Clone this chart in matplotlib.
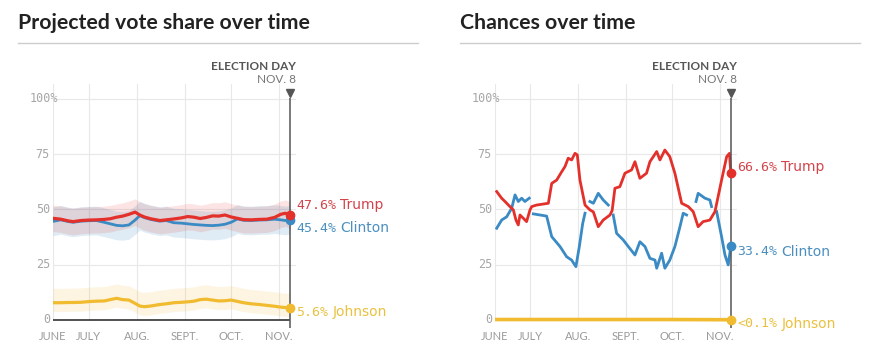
import numpy as np
import matplotlib
matplotlib.use('Agg')
from matplotlib import pyplot as plt
from matplotlib import transforms
from matplotlib.lines import Line2D

nan = np.nan

# days counted from June 1 (June 8 = 7, Nov 8 = 160)
month_days = [7, 30, 61, 92, 122, 153]
month_labels = ['JUNE', 'JULY', 'AUG.', 'SEPT.', 'OCT.', 'NOV.']
y_ticks = [0, 25, 50, 75, 100]
y_tick_labels = ['0', '25', '50', '75', '100%']
election_day = 160

# projected vote share
vs_days = [7, 12, 17, 20, 25, 30, 35, 40, 44, 48, 52, 56, 60, 63, 66, 70, 76, 80, 85, 90,
           94, 98, 102, 106, 110, 114, 118, 122, 126, 130, 135, 140, 145, 150, 154, 157, 160]
trump_vs = [46.0, 45.6, 44.8, 44.5, 45.0, 45.2, 45.3, 45.5, 45.8, 46.5, 47.0, 47.8, 48.8, 47.5, 46.6,
            45.8, 45.0, 45.3, 45.7, 46.2, 46.8, 46.5, 45.9, 46.4, 47.1, 47.0, 47.5, 46.6, 46.0, 45.4,
            45.3, 45.5, 45.6, 46.4, 47.8, 48.3, 47.6]
clinton_vs = [44.6, 45.3, 44.5, 44.2, 44.7, 44.9, 45.0, 44.2, 43.5, 42.8, 42.6, 43.0, 45.2, 47.2, 46.3,
              45.5, 44.7, 45.0, 44.0, 43.8, 43.5, 43.2, 43.0, 42.8, 42.7, 42.9, 43.3, 44.2, 45.7, 45.1,
              45.0, 45.2, 45.3, 45.6, 45.3, 45.0, 45.4]
johnson_vs = [7.8, 7.8, 7.9, 7.9, 8.0, 8.3, 8.5, 8.6, 9.2, 9.8, 9.2, 9.0, 7.5, 6.3, 6.0, 6.3, 7.0, 7.3,
              7.8, 8.0, 8.2, 8.5, 9.2, 9.4, 9.0, 8.6, 8.7, 9.0, 8.4, 7.8, 7.3, 7.0, 6.6, 6.2, 5.8, 5.6, 5.6]
trump_spread = 6.0
clinton_spread = 6.5
johnson_hi, johnson_lo = 6.5, 4.0

# chances of winning
trump_ch_days = [8.1, 11.3, 13.5, 16.7, 18.9, 20.6, 22.1, 23.2, 25.4, 27.5, 29.7, 30.8, 34, 41.6,
                 43.8, 47, 50.3, 52.4, 54.5, 56.7, 58.9, 60.4, 62.1, 65.4, 68.6, 70.8, 74, 77.2,
                 81.6, 83, 84.8, 88, 91.3, 95.6, 97.8, 101, 105.3, 107.5, 111.9, 114, 117.2, 120.4,
                 123.7, 128.1, 132.4, 135.6, 138.8, 142, 146.4, 149.7, 154, 157.3, 159.1, 160]
trump_ch = [58.1, 55.1, 53.6, 51.3, 49.8, 45.2, 43, 47.5, 46, 44.5, 49.8, 51.3, 52, 52.8, 61.8, 63.3,
            67.1, 69.4, 73.2, 72.4, 75.4, 74.7, 63.3, 52, 49.8, 48.9, 42.2, 45.2, 47.5, 49.5, 59.6,
            60.3, 66.4, 67.9, 71.6, 64.1, 66.4, 71.6, 76.2, 72.4, 76.9, 73.9, 66.4, 52.8, 51.3, 49,
            42.2, 44.5, 45.2, 49, 63.3, 73.9, 75.4, 66.6]
clinton_ch_days = [8.1, 11.3, 14.6, 17.8, 20, 22.1, 24.3, 26.4, 29.2, 30.5, 31.9, 40.5, 43.8, 49.2,
                   53.5, 56.7, 59.5, 61.7, 63.9, 65.4, 67, 68.6, 70.8, 74, 77.2, 80.5, 82.5, 83.7,
                   85.9, 90.2, 93.5, 97.8, 101, 104.3, 107.5, 110.8, 111.9, 115.1, 117.2, 120.4,
                   123.7, 127, 129.1, 131.3, 134, 137.4, 138.8, 143.2, 146.4, 147.5, 149, 150.8,
                   154, 156.2, 158.3, 160]
clinton_ch = [41.5, 45.2, 46.7, 50.5, 56.6, 53.6, 55.1, 53.6, 55.1, nan, 48, 47, 37.7, 33.2, 28.6,
              27.1, 24.1, 33.2, 43.7, 48.3, nan, 53.6, 52.8, 57.3, 54.3, 52, nan, 47.5, 39.2, 36.2,
              33.2, 29.4, 35.4, 33.2, 27.9, 27.1, 23.4, 30.2, 23.4, 27.1, 33.2, 42.2, 48.3, 47.5,
              nan, 53.6, 57.3, 55.1, 54.3, 51.3, nan, 49, 37.7, 29.4, 24.9, 33.4]
johnson_ch_days = [7, 40, 80, 120, 160]
johnson_ch = [0.2, 0.2, 0.2, 0.2, 0.1]

red = '#e3302b'
blue = '#3a8ac4'
yellow = '#f1bb2f'
red_lab = '#d2454b'
blue_lab = '#4b8fbf'
yellow_lab = '#e9c13f'
grid_c = '#e8e8e8'

W, H = 873, 358
fig = plt.figure(figsize=(W / 100, H / 100), dpi=100)


def px_axes(left, top, right, bottom):
    return fig.add_axes([left / W, 1 - bottom / H, (right - left) / W, (bottom - top) / H])


def frame(ax):
    ax.set_xlim(7, 164)
    ax.set_ylim(-4, 107)
    ax.axis('off')
    ax.vlines(month_days, 0, 107, color=grid_c, lw=0.8, zorder=0)
    ax.hlines(y_ticks[1:], 7, 164, color=grid_c, lw=0.8, zorder=0)
    ax.hlines(0, 7, election_day, color='#333333', lw=1.2, zorder=1)
    ax.vlines(election_day, -3.6, 100.6, color='#555555', lw=1.1, zorder=5)
    ax.plot([election_day], [102.6], marker='v', ms=5.5, color='#555555', clip_on=False, zorder=6)
    ax.text(164, 114.9, 'ELECTION DAY', ha='right', va='center', fontsize=8.5, fontweight='bold',
            family='Lato', color='#555555', clip_on=False)
    ax.text(164, 108.6, 'NOV. 8', ha='right', va='center', fontsize=8.5, family='Lato',
            color='#777777', clip_on=False)
    ytr = transforms.offset_copy(ax.get_yaxis_transform(), fig=fig, x=-3, units='dots')
    ytr100 = transforms.offset_copy(ax.get_yaxis_transform(), fig=fig, x=5, units='dots')
    for v, lab in zip(y_ticks, y_tick_labels):
        ax.text(0, v, lab, transform=ytr100 if lab.endswith('%') else ytr, ha='right', va='center',
                fontsize=8.5, family='DejaVu Sans Mono', color='#a6a6a6')
    for d, lab in zip(month_days, month_labels):
        ax.text(d, -7.7, lab, ha='center', va='center', fontsize=8, family='Lato',
                color='#9a9a9a', clip_on=False)


def end_label(ax, y, num, name, color):
    t = ax.annotate(num, xy=(election_day, y), xytext=(4.5, 0), textcoords='offset points',
                    ha='left', va='center', fontsize=9.5, family='DejaVu Sans Mono', color=color,
                    annotation_clip=False)
    ax.annotate(name, xy=(1, 0.5), xycoords=t, xytext=(3, 0), textcoords='offset points',
                ha='left', va='center', fontsize=10, family='DejaVu Sans', color=color)


# left: projected vote share
ax1 = px_axes(53, 83.5, 296.2, 328.8)
frame(ax1)
d = np.array(vs_days)
tv, cv, jv = np.array(trump_vs), np.array(clinton_vs), np.array(johnson_vs)
ax1.fill_between(d, cv - clinton_spread, cv + clinton_spread, color=blue, alpha=0.16, lw=0, zorder=1)
ax1.fill_between(d, tv - trump_spread, tv + trump_spread, color=red, alpha=0.13, lw=0, zorder=1)
ax1.fill_between(d, jv - johnson_lo, jv + johnson_hi, color=yellow, alpha=0.14, lw=0, zorder=1)
ax1.plot(d, cv, color=blue, lw=2.0, zorder=3)
ax1.plot(d, tv, color=red, lw=2.3, zorder=4)
ax1.plot(d, jv, color=yellow, lw=2.3, zorder=4)
for s, c in [(clinton_vs, blue), (trump_vs, red), (johnson_vs, yellow)]:
    ax1.plot([election_day], [s[-1]], 'o', ms=6, color=c, zorder=7, clip_on=False)
end_label(ax1, 52.0, '47.6%', 'Trump', red_lab)
end_label(ax1, 41.6, '45.4%', 'Clinton', blue_lab)
end_label(ax1, 3.6, '5.6%', 'Johnson', yellow_lab)

# right: chances over time
ax2 = px_axes(495, 83.5, 737, 328.8)
frame(ax2)
ax2.plot(clinton_ch_days, clinton_ch, color=blue, lw=2.0, zorder=3)
ax2.plot(trump_ch_days, trump_ch, color=red, lw=2.0, zorder=4)
ax2.plot(johnson_ch_days, johnson_ch, color=yellow, lw=2.6, zorder=4)
for s, c in [(clinton_ch, blue), (trump_ch, red), (johnson_ch, yellow)]:
    ax2.plot([election_day], [s[-1]], 'o', ms=6, color=c, zorder=7, clip_on=False)
end_label(ax2, 69.2, '66.6%', 'Trump', red_lab)
end_label(ax2, 30.8, '33.4%', 'Clinton', blue_lab)
end_label(ax2, -1.8, '<0.1%', 'Johnson', yellow_lab)

# titles and rules
for x0, x1, title in [(18, 418, 'Projected vote share over time'), (460, 860, 'Chances over time')]:
    fig.text(x0 / W, 1 - 29.3 / H, title, fontsize=15.3, fontweight='bold', family='Lato',
             color='#222222', va='baseline')
    fig.add_artist(Line2D([x0 / W, x1 / W], [1 - 43 / H, 1 - 43 / H], color='#cccccc', lw=1))

fig.savefig('out.png', dpi=100)
